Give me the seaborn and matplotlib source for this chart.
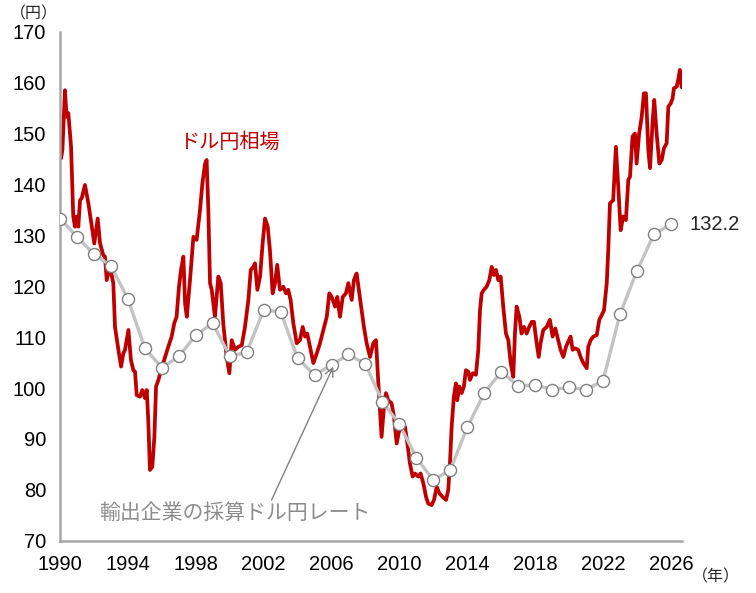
import matplotlib
matplotlib.use("Agg")
import matplotlib.pyplot as plt
import seaborn as sns
import pandas as pd

# -----------------------------
# Datos
# -----------------------------
# ドル円相場 (月次, 年の小数で表した時点)
fx_time = [
    1990.06, 1990.14, 1990.29, 1990.39, 1990.49, 1990.65, 1990.78, 1990.88, 1990.98,
    1991.08, 1991.18, 1991.28, 1991.47, 1991.67, 1991.87, 1992.02, 1992.22, 1992.36,
    1992.55, 1992.65, 1992.75, 1992.95, 1993.14, 1993.24, 1993.44, 1993.60, 1993.73,
    1993.83, 1994.03, 1994.18, 1994.32, 1994.42, 1994.52, 1994.71, 1994.85, 1995.01,
    1995.11, 1995.20, 1995.30, 1995.44, 1995.56, 1995.66, 1995.80, 1995.95, 1996.19,
    1996.38, 1996.58, 1996.73, 1996.87, 1997.01, 1997.13, 1997.27, 1997.37, 1997.47,
    1997.66, 1997.86, 1998.05, 1998.25, 1998.39, 1998.55, 1998.64, 1998.74, 1998.84,
    1998.94, 1999.13, 1999.33, 1999.47, 1999.62, 1999.82, 1999.98, 2000.12, 2000.31,
    2000.51, 2000.71, 2000.90, 2001.10, 2001.24, 2001.39, 2001.49, 2001.63, 2001.79,
    2001.94, 2002.08, 2002.24, 2002.37, 2002.53, 2002.67, 2002.80, 2002.96, 2003.16,
    2003.32, 2003.45, 2003.59, 2003.75, 2003.95, 2004.14, 2004.30, 2004.44, 2004.57,
    2004.73, 2004.93, 2005.13, 2005.32, 2005.52, 2005.72, 2005.87, 2006.01, 2006.21,
    2006.34, 2006.50, 2006.66, 2006.85, 2006.99, 2007.19, 2007.32, 2007.48, 2007.64,
    2007.78, 2007.91, 2008.07, 2008.27, 2008.46, 2008.62, 2008.76, 2008.95, 2009.09,
    2009.21, 2009.34, 2009.54, 2009.68, 2009.84, 2009.99, 2010.19, 2010.33, 2010.47,
    2010.62, 2010.78, 2010.92, 2011.11, 2011.25, 2011.41, 2011.57, 2011.70, 2011.90,
    2012.04, 2012.20, 2012.36, 2012.55, 2012.75, 2012.88, 2012.98, 2013.08, 2013.21,
    2013.33, 2013.41, 2013.53, 2013.67, 2013.80, 2013.92, 2014.06, 2014.16, 2014.32,
    2014.51, 2014.65, 2014.75, 2014.85, 2014.98, 2015.14, 2015.30, 2015.44, 2015.57,
    2015.69, 2015.83, 2015.97, 2016.12, 2016.28, 2016.42, 2016.56, 2016.71, 2016.81,
    2016.91, 2017.07, 2017.20, 2017.34, 2017.50, 2017.65, 2017.80, 2017.93, 2018.09,
    2018.21, 2018.32, 2018.48, 2018.68, 2018.87, 2019.03, 2019.19, 2019.36, 2019.50,
    2019.66, 2019.82, 2019.95, 2020.09, 2020.21, 2020.35, 2020.54, 2020.68, 2020.84,
    2021.04, 2021.13, 2021.27, 2021.43, 2021.63, 2021.78, 2021.92, 2022.06, 2022.22,
    2022.31, 2022.41, 2022.60, 2022.76, 2022.90, 2023.04, 2023.19, 2023.35, 2023.49,
    2023.59, 2023.74, 2023.88, 2023.98, 2024.13, 2024.28, 2024.41, 2024.53, 2024.67,
    2024.77, 2024.93, 2025.02, 2025.16, 2025.32, 2025.46, 2025.59, 2025.75, 2025.85,
    2025.99, 2026.10, 2026.18, 2026.34, 2026.43, 2026.53, 2026.63,
]
fx_rate = [
    145.1, 146.8, 158.5, 153.3, 154.0, 147.4, 133.7, 131.7, 133.7,
    131.7, 136.9, 137.3, 139.9, 136.3, 131.7, 128.4, 133.3, 128.4,
    126.1, 125.8, 121.2, 123.8, 120.6, 112.0, 107.5, 104.2, 106.8,
    107.5, 111.4, 105.5, 103.5, 103.2, 98.6, 98.3, 99.6, 98.0,
    99.6, 93.7, 83.9, 84.5, 90.4, 100.3, 101.6, 103.5, 106.1,
    108.1, 110.1, 112.7, 114.0, 119.9, 123.2, 125.8, 116.6, 114.0,
    121.2, 129.7, 129.1, 135.0, 140.2, 144.1, 144.8, 135.0, 120.6,
    119.3, 114.0, 121.9, 120.6, 112.7, 106.1, 102.9, 109.4, 107.5,
    108.1, 108.4, 112.0, 117.3, 123.2, 123.8, 124.5, 119.3, 121.9,
    128.4, 133.3, 131.7, 127.1, 118.6, 120.6, 124.2, 119.3, 119.9,
    118.6, 119.3, 117.3, 112.7, 108.8, 109.4, 112.0, 110.1, 110.7,
    108.1, 104.9, 106.8, 108.8, 111.4, 114.0, 118.6, 117.9, 116.0,
    117.9, 114.0, 117.9, 118.6, 120.6, 117.3, 121.2, 122.5, 118.6,
    115.3, 112.0, 108.8, 106.1, 108.8, 109.4, 100.9, 90.4, 96.3,
    99.0, 97.6, 97.0, 94.4, 89.1, 91.7, 91.7, 92.4, 89.1,
    85.2, 82.6, 83.2, 82.6, 83.2, 81.3, 78.6, 77.3, 77.0,
    78.0, 80.6, 79.3, 78.6, 78.0, 80.0, 85.2, 92.4, 98.3,
    100.9, 97.6, 100.3, 99.0, 100.3, 103.5, 103.2, 101.6, 102.9,
    102.6, 107.5, 115.3, 118.6, 119.3, 119.9, 121.2, 123.8, 122.2,
    123.2, 121.2, 121.9, 116.0, 110.7, 109.4, 104.9, 102.2, 110.7,
    116.0, 114.0, 110.7, 112.0, 110.7, 112.0, 113.0, 113.0, 108.8,
    106.1, 108.8, 111.4, 112.0, 113.4, 110.1, 111.7, 109.4, 107.5,
    106.1, 108.1, 109.1, 110.1, 107.5, 107.8, 107.5, 106.1, 104.9,
    103.9, 108.1, 109.4, 110.1, 110.4, 113.4, 114.3, 115.3, 120.6,
    127.1, 136.3, 136.9, 147.4, 139.5, 131.0, 133.7, 133.0, 140.9,
    141.5, 149.4, 150.0, 144.1, 150.0, 153.3, 157.9, 157.9, 146.8,
    143.2, 152.7, 156.6, 150.0, 144.1, 144.8, 147.1, 148.1, 155.3,
    155.9, 156.9, 158.9, 159.2, 160.5, 162.5, 159.1,
]

# 輸出企業の採算ドル円レート (年次)
break_even_year = list(range(1990, 2027))
break_even_rate = [
    133.3, 129.7, 126.3, 124.0, 117.5, 107.8, 104.0, 106.2, 110.4, 112.7,
    106.3, 107.0, 115.3, 115.0, 105.8, 102.6, 104.5, 106.6, 104.7, 97.3,
    92.9, 86.3, 81.9, 83.9, 92.3, 99.0, 103.2, 100.4, 100.6, 99.7,
    100.1, 99.7, 101.4, 114.5, 123.0, 130.2, 132.2,
]

x_ticks = list(range(1990, 2027, 4))
y_ticks = list(range(70, 171, 10))

# -----------------------------
# Estilo
# -----------------------------
sns.set_style("white")
plt.rcParams["font.family"] = ["Liberation Sans", "Noto Sans CJK JP", "DejaVu Sans"]

RED = "#c00000"
GRAY_LINE = "#c3c3c3"
AXIS_GRAY = "#a6a6a6"

fx_df = pd.DataFrame({"year": fx_time, "rate": fx_rate})
be_df = pd.DataFrame({"year": break_even_year, "rate": break_even_rate})

fig = plt.figure(figsize=(7.56, 5.93), dpi=100)
ax = fig.add_axes([0.0794, 0.0882, 0.8226, 0.8583])

sns.lineplot(data=fx_df, x="year", y="rate", ax=ax, color=RED, linewidth=2.7,
             zorder=2)
sns.lineplot(data=be_df, x="year", y="rate", ax=ax, color=GRAY_LINE, linewidth=2.4,
             marker="o", markersize=8.7, markerfacecolor="white",
             markeredgecolor="#7f7f7f", markeredgewidth=1.0, zorder=3)

ax.set_xlim(1990, 2026.65)
ax.set_ylim(70, 170)
ax.set_xticks(x_ticks)
ax.set_yticks(y_ticks)
ax.set_xlabel("")
ax.set_ylabel("")

for side in ["top", "right"]:
    ax.spines[side].set_visible(False)
for side in ["left", "bottom"]:
    ax.spines[side].set_color(AXIS_GRAY)
    ax.spines[side].set_linewidth(1.8)

ax.tick_params(axis="both", direction="out", length=6, width=1.5,
               color=AXIS_GRAY, labelsize=14.5, labelcolor="black", pad=4)

# -----------------------------
# Textos
# -----------------------------
fig.text(10 / 756, 1 - 14 / 593, "（円）", fontsize=11.5, ha="left", va="center")
fig.text(692 / 756, 1 - 577 / 593, "（年）", fontsize=11.5, ha="left", va="center")

ax.text(1997.0, 148.4, "ドル円相場", color=RED, fontsize=14.5, ha="left", va="center")
ax.text(break_even_year[-1] + 1.1, break_even_rate[-1], f"{break_even_rate[-1]:.1f}",
        fontsize=14.5, ha="left", va="center")

ax.annotate("輸出企業の採算ドル円レート", xy=(2006.1, 104.2), xytext=(1992.3, 75.4),
            fontsize=15, color="#8c8c8c", ha="left", va="center",
            arrowprops=dict(arrowstyle="->", color="#808080", lw=1.0,
                            shrinkA=0, shrinkB=0,
                            relpos=(0.63, 1.0)))

plt.savefig("out.png", dpi=100)
plt.close()
